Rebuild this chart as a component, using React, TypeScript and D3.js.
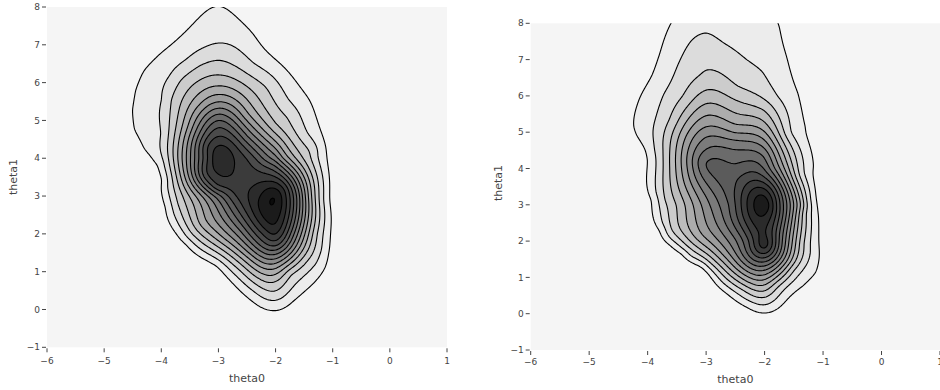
import React, { useMemo } from "react";
import * as d3 from "d3";

const LEVELS = d3.range(1, 16);
const X_TICKS = d3.range(-6, 2);
const Y_TICKS = d3.range(-1, 9);

// ---------- Left panel readings ([theta0, theta1] on a contour, or [theta0, theta1, level])
const leftLevel1 = [[-2.91,8.0],[-2.39,7.3],[-1.86,6.42],[-1.4,5.54],[-1.25,4.92],[-1.16,4.48],[-1.08,3.77],[-1.05,2.89],[-1.08,1.48],[-1.13,1.12],[-1.34,0.68],[-1.69,0.24],[-2.0,-0.04],[-2.39,0.2],[-2.74,0.68],[-3.03,1.17],[-3.56,1.74],[-3.73,2.01],[-3.91,2.71],[-3.96,3.42],[-4.02,3.82],[-4.14,3.9],[-4.31,4.21],[-4.49,4.74],[-4.52,5.27],[-4.46,5.8],[-4.31,6.33],[-4.02,6.77],[-3.61,7.3],[-3.09,8.0]];
const leftLevel2 = [[-3.0,7.04],[-2.39,6.5],[-1.78,5.54],[-1.56,5.1],[-1.45,4.65],[-1.28,4.04],[-1.17,2.89],[-1.19,1.57],[-1.28,1.21],[-1.57,0.77],[-2.0,0.24],[-2.39,0.5],[-2.74,0.95],[-3.32,1.6],[-3.56,1.92],[-3.79,2.54],[-3.91,3.24],[-3.96,3.77],[-3.98,4.65],[-3.96,5.54],[-3.85,6.16],[-3.56,6.6],[-3.2,6.95]];
const leftLevel3 = [[-3.0,6.61],[-2.16,5.89],[-1.78,5.1],[-1.36,4.21],[-1.25,3.33],[-1.28,2.01],[-1.45,1.3],[-1.75,0.95],[-2.0,0.46],[-2.62,1.04],[-3.09,1.57],[-3.47,2.01],[-3.73,2.81],[-3.85,3.77],[-3.88,4.65],[-3.85,5.54],[-3.67,6.07],[-3.32,6.46]];
const leftCuts = [
  [-3,6.2,4],[-3,5.91,5],[-3,5.69,6],[-3,5.49,7],[-3,5.32,8],[-3,5.18,9],[-3,5.01,10],[-3,4.83,11],[-3,4.58,12],[-3,4.33,13],
  [-2,0.73,4],[-2,0.92,5],[-2,1.08,6],[-2,1.22,7],[-2,1.34,8],[-2,1.46,9],[-2,1.57,10],[-2,1.68,11],[-2,1.8,12],[-2,1.96,13],[-2,2.23,14],
  [-2,4.9,4],[-2,4.65,5],[-2,4.45,6],[-2,4.27,7],[-2,4.1,8],[-2,3.95,9],[-2,3.8,10],[-2,3.65,11],[-2,3.5,12],[-2,3.37,13],[-2,3.2,14],
  [-1.31,3,4],[-1.37,3,5],[-1.43,3,6],[-1.48,3,7],[-1.53,3,8],[-1.58,3,9],[-1.63,3,10],[-1.69,3,11],[-1.75,3,12],[-1.83,3,13],[-1.9,2.9,14],
  [-3.62,3,4],[-3.51,3,5],[-3.39,3,6],[-3.28,3,7],[-3.17,3,8],[-3.05,3,9],[-2.94,3,10],[-2.82,3,11],[-2.71,3,12],[-2.48,2.9,13],[-2.26,2.98,14],
  [-1.53,4,4],[-1.65,4,5],[-1.77,4,6],[-1.89,4,7],[-2.0,4,8.3],[-2.12,4,9],[-2.23,4,10],[-2.35,4,11],[-2.5,4,12],[-2.74,4,13],
  [-3.79,4,4],[-3.71,4,5],[-3.64,4,6],[-3.56,4,7],[-3.49,4,8],[-3.41,4,9],[-3.34,4,10],[-3.26,4,11],[-3.18,4,12],[-3.09,4,13],
  [-2.0,2.95,15.32],[-2.98,4.0,14.3],[-3.0,3.64,13],[-2.16,3.37,13],[-1.83,3.16,13],[-1.83,2.54,13],[-2.0,3.2,14],
  [-3.21,4.3,12],[-3.23,3.6,12],[-3.03,3.24,12],[-2.5,2.54,12],[-2.21,2.0,12],[-2.97,4.57,12],[-3.0,8.0,1.05]
];
const leftGuesses = [
  [-2.6,3.55,12.5],[-2.8,3.8,12.6],[-2.35,3.2,12.7],[-1.8,2.3,12],[-1.83,3.3,12],
  [-3.52,4.8,6],[-3.3,5.4,6],[-2.5,5.12,6],[-2.45,1.35,6],[-2.9,1.85,6],[-3.28,2.3,6],[-1.62,1.55,6],
  [-3.3,4.7,9],[-2.6,2.1,9],[-1.7,2.0,9],[-2.5,4.55,9]
];
const leftOutside = [[-5.0,5.3,-0.5],[-4.6,3.6,-0.5],[-4.4,2.5,-0.5],[-3.9,1.3,-0.5],[-3.1,0.4,-0.5],[-2.0,-0.45,-0.5],[-1.0,0.25,-0.5],[-0.6,2.5,-0.5],[-0.7,4.5,-0.5],[-1.0,6.0,-0.5],[-1.8,7.3,-0.5],[-4.6,7.3,-0.5],[-4.9,6.5,-0.5],[-2.4,8.3,-0.3],[-3.8,8.3,-0.3]];

// ---------- Right panel readings
const rightLevel1 = [[-1.75,8.0],[-1.62,7.08],[-1.42,6.07],[-1.28,5.16],[-1.14,4.06],[-1.07,2.69],[-1.07,1.49],[-1.11,1.12],[-1.34,0.75],[-1.62,0.39],[-1.99,0.02],[-2.31,0.2],[-2.65,0.57],[-2.96,1.12],[-3.05,1.3],[-3.39,1.67],[-3.62,1.94],[-3.76,2.31],[-3.9,3.14],[-3.99,4.24],[-4.02,4.51],[-4.19,4.88],[-4.25,5.16],[-4.22,5.52],[-4.13,5.98],[-4.05,6.21],[-3.93,6.53],[-3.79,7.17],[-3.6,8.0]];
const rightLevel2 = [[-2.99,7.77],[-2.71,7.45],[-2.31,6.99],[-2.02,6.67],[-1.79,5.98],[-1.57,4.97],[-1.34,3.87],[-1.23,3.14],[-1.21,1.67],[-1.31,1.3],[-1.62,0.75],[-1.99,0.23],[-2.36,0.43],[-2.71,0.84],[-2.96,1.26],[-3.28,1.58],[-3.62,2.04],[-3.76,2.5],[-3.87,3.32],[-3.9,4.51],[-3.87,5.34],[-3.73,6.07],[-3.5,6.81],[-3.25,7.54]];
const rightLevel3 = [[-2.99,6.76],[-2.48,6.26],[-2.08,5.98],[-1.79,5.52],[-1.57,4.7],[-1.4,3.78],[-1.31,2.77],[-1.34,1.94],[-1.51,1.21],[-1.79,0.75],[-1.99,0.45],[-2.36,0.66],[-2.93,1.39],[-3.33,1.85],[-3.62,2.31],[-3.73,3.14],[-3.73,4.51],[-3.62,5.34],[-3.39,5.98],[-3.11,6.53]];
const rightCuts = [
  [-3,6.18,4],[-3,5.8,5],[-3,5.47,6],[-3,5.15,7],[-3,4.88,8],[-3,4.51,9],[-3,4.14,10],
  [-2.5,5.89,4],[-2.5,5.52,5],[-2.5,5.2,6],[-2.5,4.97,7],[-2.5,4.79,8],[-2.5,4.51,9],[-2.5,4.06,10],
  [-2,5.61,4],[-2,5.29,5],[-2,5.02,6],[-2,4.79,7],[-2,4.56,8],[-2,4.33,9],[-2,4.0,10],[-2,3.75,11],[-2,3.6,12],[-2,3.45,13],[-2,3.27,14],
  [-2,0.61,4],[-2,0.79,5],[-2,0.93,6],[-2,1.07,7],[-2,1.2,8],[-2,1.32,9],[-2,1.43,10],[-2,1.54,11],[-2,1.66,12],[-2,1.77,13],[-2,1.91,14],
  [-1.32,3,4],[-1.38,3,5],[-1.44,3,6],[-1.5,3,7],[-1.56,3,8],[-1.62,3,9],[-1.68,3,10],[-1.74,3,11],[-1.8,3,12],[-1.86,3,13],[-1.92,3,14],
  [-3.5,3,4],[-3.36,3,5],[-3.22,3,6],[-3.08,3,7],[-2.94,3,8],[-2.78,3,9],[-2.6,3,10],[-2.5,3,11],[-2.4,3,12],[-2.3,3,13],[-2.17,3,14],
  [-1.51,4,4],[-1.58,4,5],[-1.66,4,6],[-1.74,4,7],[-1.83,4,8],[-1.92,4,9],[-2.02,4,10],
  [-3.62,4,4],[-3.52,4,5],[-3.42,4,6],[-3.32,4,7],[-3.22,4,8],[-3.12,4,9],[-3.0,4,10],
  [-2.0,2.97,15.05],[-3.05,4.15,10]
];
const rightGuesses = [
  [-2.7,3.7,10.5],[-2.5,3.5,10.7],[-2.85,3.95,10.3],[-2.25,2.0,10],[-1.78,2.2,10],
  [-2.75,1.65,6],[-3.1,2.15,6],[-1.6,1.45,6],[-1.8,4.55,6],[-3.35,4.9,6],
  [-2.45,2.05,9],[-1.72,2.0,9],[-3.1,4.35,9],
  [-2.7,8.0,1.5],[-2.2,8.0,1.3],[-2.7,8.6,1.3],[-2.2,8.6,1.15]
];
const rightOutside = [[-4.75,5.1,-0.5],[-4.5,3.7,-0.5],[-4.3,2.2,-0.5],[-3.75,1.2,-0.5],[-3.1,0.5,-0.5],[-2.0,-0.45,-0.5],[-1.0,0.3,-0.5],[-0.6,2.5,-0.5],[-0.65,4.3,-0.5],[-0.85,6.0,-0.5],[-1.15,7.5,-0.5],[-4.4,7.3,-0.5],[-4.7,6.3,-0.5],[-4.2,8.6,-0.5],[-1.2,8.6,-0.5]];

const farRing = [[-5.6,-1.2],[-5.6,2],[-5.6,5],[-5.6,8.8],[-0.2,-1.2],[-0.2,2],[-0.2,5],[-0.2,8.8],[-4.5,-1.2],[-3,-1.2],[-1.5,-1.2],[-4.8,8.8],[-0.9,8.8]];

const ASPECT = 0.66; // theta1 unit relative to theta0 unit on screen

function readingsToPoints(l1: number[][], l2: number[][], l3: number[][], cuts: number[][], guesses: number[][], outside: number[][]) {
  const pts: number[][] = [];
  l1.forEach(([x, y]) => pts.push([x, y, 1, 0.04]));
  l2.forEach(([x, y]) => pts.push([x, y, 2, 0.04]));
  l3.forEach(([x, y]) => pts.push([x, y, 3, 0.04]));
  cuts.forEach(([x, y, l]) => pts.push([x, y, l, 0.035]));
  guesses.forEach(([x, y, l]) => pts.push([x, y, l, 0.12]));
  outside.forEach(([x, y, l]) => pts.push([x, y, l, 0.3]));
  farRing.forEach(([x, y]) => pts.push([x, y, -2, 1]));
  return pts;
}

function solve(M: Float64Array[], n: number) {
  for (let c = 0; c < n; c++) {
    let piv = c;
    for (let r = c + 1; r < n; r++) if (Math.abs(M[r][c]) > Math.abs(M[piv][c])) piv = r;
    const tmp = M[c]; M[c] = M[piv]; M[piv] = tmp;
    const d = M[c][c];
    for (let r = c + 1; r < n; r++) {
      const f = M[r][c] / d;
      if (f === 0) continue;
      const Mr = M[r], Mc = M[c];
      for (let k = c; k <= n; k++) Mr[k] -= f * Mc[k];
    }
  }
  const x = new Float64Array(n);
  for (let r = n - 1; r >= 0; r--) {
    let s = M[r][n];
    for (let k = r + 1; k < n; k++) s -= M[r][k] * x[k];
    x[r] = s / M[r][r];
  }
  return x;
}

// Thin-plate smoothing surface through the readings
function surface(pts: number[][]) {
  const n = pts.length, N = n + 3;
  const U = pts.map((p) => p[0]), V = pts.map((p) => p[1] * ASPECT);
  const M: Float64Array[] = [];
  for (let i = 0; i < N; i++) M.push(new Float64Array(N + 1));
  for (let i = 0; i < n; i++) {
    for (let j = 0; j < n; j++) {
      if (i === j) { M[i][j] = pts[i][3]; continue; }
      const r2 = (U[i] - U[j]) ** 2 + (V[i] - V[j]) ** 2;
      M[i][j] = r2 > 0 ? 0.5 * r2 * Math.log(r2) : 0;
    }
    M[i][n] = 1; M[i][n + 1] = U[i]; M[i][n + 2] = V[i];
    M[n][i] = 1; M[n + 1][i] = U[i]; M[n + 2][i] = V[i];
    M[i][N] = pts[i][2];
  }
  const w = solve(M, N);
  return (x: number, y: number) => {
    const v = y * ASPECT;
    let s = w[n] + w[n + 1] * x + w[n + 2] * v;
    for (let i = 0; i < n; i++) {
      const r2 = (x - U[i]) ** 2 + (v - V[i]) ** 2;
      if (r2 > 0) s += w[i] * 0.5 * r2 * Math.log(r2);
    }
    return s;
  };
}

const STEP = 0.025, GX0 = -5.6, GX1 = -0.2, GY0 = -1.2, GY1 = 8.8;

function grey(k: number) {
  const v = Math.round(236 - (k - 1) * 16.1);
  return `rgb(${v},${v},${v})`;
}

type Box = { x0: number; x1: number; y0: number; y1: number; titleY: number; tickY: number; ylabX: number; ylabY: number };

function Panel({ id, box, fn }: { id: string; box: Box; fn: (x: number, y: number) => number }) {
  const x = d3.scaleLinear().domain([-6, 1]).range([box.x0, box.x1]);
  const y = d3.scaleLinear().domain([-1, 8]).range([box.y1, box.y0]);
  const paths = useMemo(() => {
    const nx = Math.round((GX1 - GX0) / STEP) + 1, ny = Math.round((GY1 - GY0) / STEP) + 1;
    const values = new Float64Array(nx * ny);
    for (let j = 0; j < ny; j++) for (let i = 0; i < nx; i++) values[j * nx + i] = fn(GX0 + i * STEP, GY0 + j * STEP);
    const cs = d3.contours().size([nx, ny]).thresholds(LEVELS)(values as any);
    const proj = d3.geoTransform({
      point(px: number, py: number) {
        (this as any).stream.point(x(GX0 + (px - 0.5) * STEP), y(GY0 + (py - 0.5) * STEP));
      },
    });
    const gp = d3.geoPath(proj as any);
    return cs.map((c) => ({ level: c.value, d: gp(c as any) || "" }));
  }, [fn]);
  const fmt = d3.format("d");
  return (
    <g>
      <defs>
        <clipPath id={id}>
          <rect x={box.x0} y={box.y0} width={box.x1 - box.x0} height={box.y1 - box.y0} />
        </clipPath>
      </defs>
      <rect x={box.x0} y={box.y0} width={box.x1 - box.x0} height={box.y1 - box.y0} fill="#f5f5f5" />
      <g clipPath={`url(#${id})`}>
        {paths.map((p) => (
          <path key={p.level} d={p.d} fill={grey(p.level)} stroke="#000" strokeWidth={1.1} />
        ))}
      </g>
      {Y_TICKS.map((t) => (
        <g key={t}>
          <line x1={box.x0 - 5} x2={box.x0 - 1} y1={y(t)} y2={y(t)} stroke="#444" />
          <text x={box.x0 - 7} y={y(t)} dy="0.35em" textAnchor="end" fontSize={9} fill="#444">{fmt(t)}</text>
        </g>
      ))}
      {X_TICKS.map((t) => (
        <g key={t}>
          <line x1={x(t)} x2={x(t)} y1={box.y1 + 1} y2={box.y1 + 5} stroke="#444" />
          <text x={x(t)} y={box.tickY} textAnchor="middle" fontSize={9} fill="#444">{fmt(t)}</text>
        </g>
      ))}
      <text x={(box.x0 + box.x1) / 2} y={box.titleY} textAnchor="middle" fontSize={11} fill="#444">theta0</text>
      <text transform={`translate(${box.ylabX},${box.ylabY}) rotate(-90)`} textAnchor="middle" dy="0.35em" fontSize={11} fill="#444">theta1</text>
    </g>
  );
}

const LEFT_BOX: Box = { x0: 47, x1: 447, y0: 7, y1: 347.3, titleY: 382, tickY: 364, ylabX: 13, ylabY: 177 };
const RIGHT_BOX: Box = { x0: 530.7, x1: 940, y0: 23.3, y1: 350, titleY: 383, tickY: 365, ylabX: 498, ylabY: 183 };

export default function App() {
  const data = useMemo(() => {
    const lp = readingsToPoints(leftLevel1, leftLevel2, leftLevel3, leftCuts, leftGuesses, leftOutside);
    const rp = readingsToPoints(rightLevel1, rightLevel2, rightLevel3, rightCuts, rightGuesses, rightOutside);
    return { left: surface(lp), right: surface(rp) };
  }, []);
  return (
    <svg width={940} height={390} style={{ position: "absolute", left: 0, top: 0, fontFamily: "DejaVu Sans" }}>
      <rect width={940} height={390} fill="#fff" />
      <Panel id="clipL" box={LEFT_BOX} fn={data.left} />
      <Panel id="clipR" box={RIGHT_BOX} fn={data.right} />
    </svg>
  );
}
